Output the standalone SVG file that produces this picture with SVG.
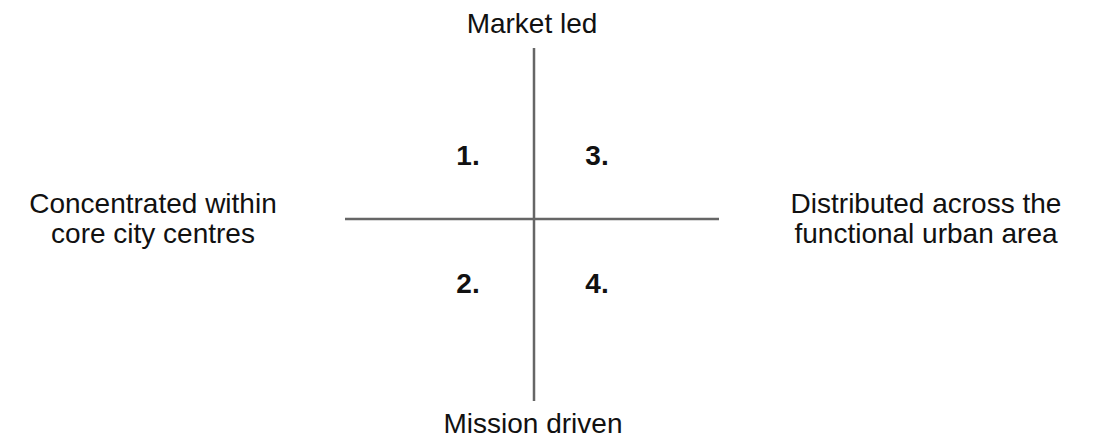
<svg xmlns="http://www.w3.org/2000/svg" width="1099" height="448" viewBox="0 0 1099 448">
<style>
.lbl{font-family:"Liberation Sans",Arial,sans-serif;font-size:28px;fill:#111;text-anchor:middle}
.num{font-family:"Liberation Sans",Arial,sans-serif;font-size:28px;font-weight:bold;fill:#111;text-anchor:middle}
.axis{stroke:#666;stroke-width:2.5;fill:none}
</style>
<rect width="1099" height="448" fill="#fff"/>
<g id="connectors">
<line class="axis" x1="534" y1="48" x2="534" y2="401"/>
<line class="axis" x1="345" y1="219" x2="719" y2="219"/>
</g>
<g id="top"><text class="lbl" x="532" y="33">Market led</text></g>
<g id="bottom"><text class="lbl" x="533" y="433">Mission driven</text></g>
<g id="left"><text class="lbl" x="153" y="213">Concentrated within</text><text class="lbl" x="153" y="243">core city centres</text></g>
<g id="right"><text class="lbl" x="926" y="213">Distributed across the</text><text class="lbl" x="926" y="243">functional urban area</text></g>
<g id="q1"><text class="num" x="468" y="165">1.</text></g>
<g id="q3"><text class="num" x="597" y="165">3.</text></g>
<g id="q2"><text class="num" x="468" y="293">2.</text></g>
<g id="q4"><text class="num" x="597" y="293">4.</text></g>
</svg>
